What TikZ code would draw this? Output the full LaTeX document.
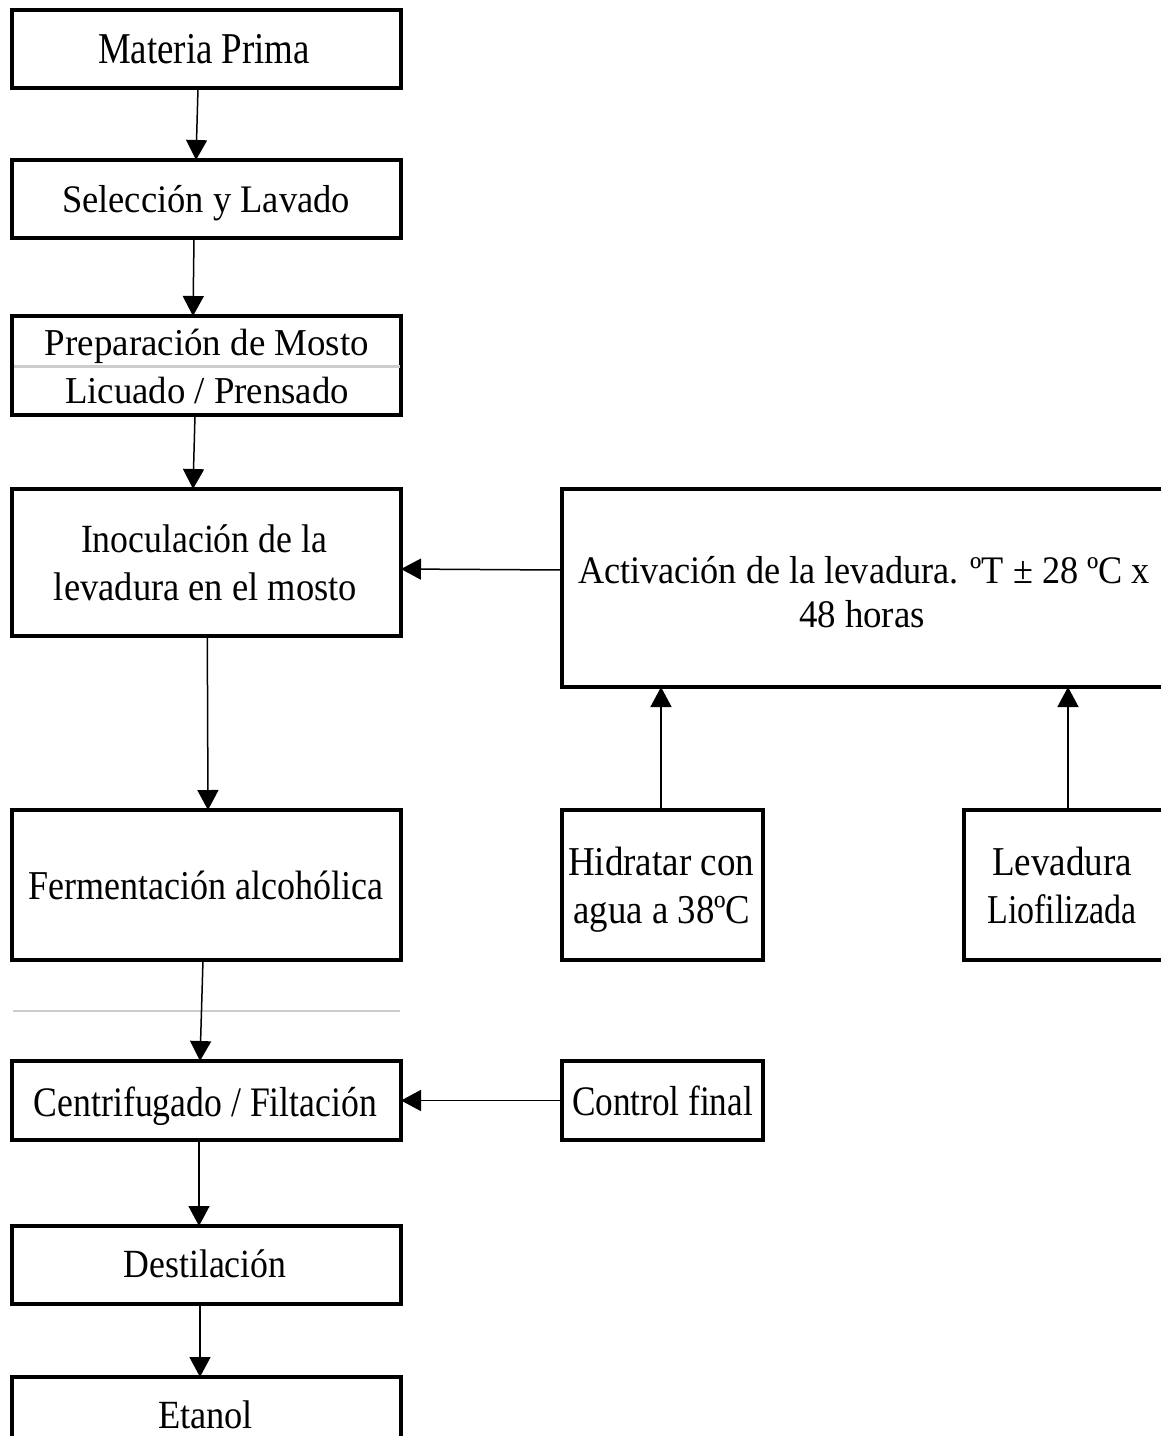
\documentclass[tikz,border=0pt]{standalone}
\usepackage{fontspec}
\setmainfont{Liberation Serif}
\usepackage{graphicx}
\usetikzlibrary{arrows.meta}
\newlength\fitlen
\newcommand\fitw[3]{\fontsize{#1}{#1}\selectfont\settowidth\fitlen{#3}\scalebox{\fpeval{#2/\fitlen}}[1]{#3}}
\tikzset{
  box/.style={draw, line width=3.3pt, inner sep=0pt, outer sep=0pt, fill=none},
  txt/.style={inner sep=0pt, anchor=base},
  arr/.style={line width=1.5pt, -{Triangle[length=20pt,width=21pt]}},
  sep/.style={line width=2.2pt, draw=black!20}
}
\begin{document}
\begin{tikzpicture}[x=1pt,y=-1pt]
\useasboundingbox (0,0) rectangle (1161,1436);
\clip (0,0) rectangle (1161,1436);
\fill[white] (0,0) rectangle (1161,1436);
% boxes
\node[box, minimum width=389pt, minimum height=78pt]  (mp)    at (206.5,49)    {};
\node[box, minimum width=389pt, minimum height=78pt]  (sel)   at (206.5,199)   {};
\node[box, minimum width=389pt, minimum height=99pt]  (prep)  at (206.5,365.5) {};
\node[box, minimum width=389pt, minimum height=147pt] (inoc)  at (206.5,562.5) {};
\node[box, minimum width=604pt, minimum height=198pt] (activ) at (864,588)     {};
\node[box, minimum width=389pt, minimum height=150pt] (ferm)  at (206.5,885)   {};
\node[box, minimum width=201pt, minimum height=150pt] (hid)   at (662.5,885)   {};
\node[box, minimum width=200pt, minimum height=150pt] (lev)   at (1064,885)    {};
\node[box, minimum width=389pt, minimum height=79pt]  (cent)  at (206.5,1100.5){};
\node[box, minimum width=201pt, minimum height=79pt]  (ctrl)  at (662.5,1100.5){};
\node[box, minimum width=389pt, minimum height=78pt]  (dest)  at (206.5,1265)  {};
\node[box, minimum width=389pt, minimum height=78pt]  (etan)  at (206.5,1416)  {};
% separators
\coordinate (s1a) at (13.5,366.5); \coordinate (s1b) at (399.5,366.5);
\draw[sep] (s1a) -- (s1b);
\coordinate (s2a) at (13,1011); \coordinate (s2b) at (400,1011);
\draw[sep] (s2a) -- (s2b);
% texts
\node[txt] (tmp)    at (204,63)    {\fitw{44}{212}{Materia Prima}};
\node[txt] (tsel)   at (206,212)   {\fitw{39}{288}{Selección y Lavado}};
\node[txt] (tprep1) at (207,355)   {\fitw{38}{324}{Preparación de Mosto}};
\node[txt] (tprep2) at (207,403)   {\fitw{38}{284}{Licuado / Prensado}};
\node[txt] (tinoc1) at (204,552)   {\fitw{40}{246}{Inoculación de la}};
\node[txt] (tinoc2) at (205.5,600) {\fitw{40}{303}{levadura en el mosto}};
\node[txt] (tact1)  at (864,583)   {\fitw{39}{572}{Activación de la levadura. ºT ± 28 ºC x}};
\node[txt] (tact2)  at (862,627)   {\fitw{39}{126}{48 horas}};
\node[txt] (tferm)  at (205.5,899) {\fitw{41}{355}{Fermentación alcohólica}};
\node[txt] (thid1)  at (661,875)   {\fitw{41}{186}{Hidratar con}};
\node[txt] (thid2)  at (662,923)   {\fitw{41}{177}{agua a 38ºC}};
\node[txt] (tlev1)  at (1062,875)  {\fitw{41}{140}{Levadura}};
\node[txt] (tlev2)  at (1062,923)  {\fitw{41}{149}{Liofilizada}};
\node[txt] (tcent)  at (205.5,1116){\fitw{42}{343}{Centrifugado / Filtación}};
\node[txt] (tctrl)  at (662.5,1115){\fitw{42}{181}{Control final}};
\node[txt] (tdest)  at (205,1277)  {\fitw{40}{163}{Destilación}};
\node[txt] (tetan)  at (205.5,1428){\fitw{40}{95}{Etanol}};
% connectors
\draw[arr] ([xshift=-8.5pt]mp.south) -- ([xshift=-10.5pt]sel.north);
\draw[arr] ([xshift=-12.5pt]sel.south) -- ([xshift=-13.5pt]prep.north);
\draw[arr] ([xshift=-11.5pt]prep.south) -- ([xshift=-13.5pt]inoc.north);
\draw[arr] ([xshift=0.8pt]inoc.south) -- ([xshift=1.5pt]ferm.north);
\draw[arr] ([xshift=-3.5pt]ferm.south) -- ([xshift=-6.5pt]cent.north);
\draw[arr] ([xshift=-7.5pt]cent.south) -- ([xshift=-7.5pt]dest.north);
\draw[arr] ([xshift=-6.5pt]dest.south) -- ([xshift=-6.5pt]etan.north);
\draw[arr] ([yshift=18pt]activ.west) -- ([yshift=-6.5pt]inoc.east);
\draw[arr] ([xshift=-1.5pt]hid.north) -- ([xshift=-1.5pt]hid.north |- activ.south);
\draw[arr] ([xshift=4pt]lev.north) -- ([xshift=4pt]lev.north |- activ.south);
\draw[arr] (ctrl.west) -- (cent.east);
\end{tikzpicture}
\end{document}
